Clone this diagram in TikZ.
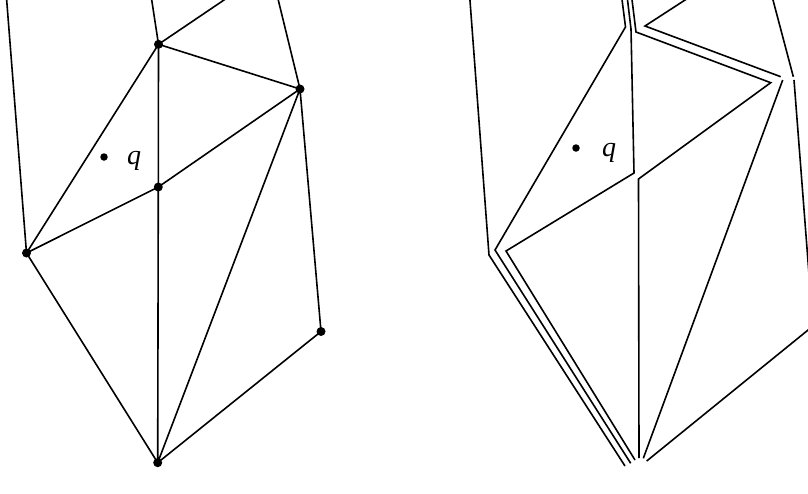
\documentclass[tikz,border=0pt]{standalone}
\usepackage{fontspec}
\setmainfont{Liberation Serif}
\begin{document}
\begin{tikzpicture}[x=1pt,y=-1pt,line width=1.6pt,line join=miter,
  vdot/.style={circle,fill=black,inner sep=0pt,minimum size=9pt},
  qdot/.style={circle,fill=black,inner sep=0pt,minimum size=7.5pt},
  qlab/.style={inner sep=0pt,font=\fontsize{28}{28}\selectfont\itshape}]
\useasboundingbox (0,0) rectangle (808,493);
\clip (0,0) rectangle (808,493);
% ---------- left figure ----------
\coordinate (A) at (158.5,44.3);
\coordinate (B) at (300,89);
\coordinate (C) at (158.3,187);
\coordinate (D) at (26.5,253);
\coordinate (E) at (321,331.5);
\coordinate (F) at (157.7,462.7);
\coordinate (TL) at (6.2,-6);
\coordinate (TA1) at (150.8,-6);
\coordinate (TA2) at (232.9,-6);
\coordinate (TB) at (276.8,-6);
\draw (D)--(TL) (A)--(TA1) (A)--(TA2) (B)--(TB);
\draw (A)--(B) (A)--(C) (A)--(D) (B)--(C) (B)--(F) (B)--(E)
      (C)--(D) (C)--(F) (D)--(F) (E)--(F);
\foreach \v in {A,B,C,D,E,F} \node[vdot] at (\v) {};
\node[qdot] (q1) at (104,157) {};
\node[qlab] (ql1) at (134,161) {q};
% ---------- right figure (chains) ----------
\coordinate (T1) at (469.5,-6);  \coordinate (D1) at (489,255);   \coordinate (F1) at (625,466);
\coordinate (T2) at (621.3,-6);  \coordinate (A2) at (625.5,27);  \coordinate (D2) at (495,250);  \coordinate (F2) at (630.7,463.3);
\coordinate (T3) at (626.8,-6);  \coordinate (A3) at (631,29);    \coordinate (C3) at (634,173);  \coordinate (D3) at (506,251); \coordinate (F3) at (635,460);
\coordinate (T4) at (631.3,-6);  \coordinate (A4) at (636,32);    \coordinate (B4) at (770.7,82.7); \coordinate (C4) at (638.5,179); \coordinate (F4) at (639,458);
\coordinate (T5) at (694.3,-6);  \coordinate (A5) at (645,26);    \coordinate (B5) at (780.7,76.7); \coordinate (B5b) at (782.7,80); \coordinate (F5) at (643.3,458.3);
\coordinate (T6) at (771.4,-6);  \coordinate (B6) at (793.3,76.7); \coordinate (B6b) at (794,80); \coordinate (E6) at (813,326); \coordinate (F6) at (646.7,461);
\draw (T1)--(D1)--(F1);
\draw (T2)--(A2)--(D2)--(F2);
\draw (T3)--(A3)--(C3)--(D3)--(F3);
\draw (T4)--(A4)--(B4)--(C4)--(F4);
\draw (T5)--(A5)--(B5);
\draw (B5b)--(F5);
\draw (T6)--(B6);
\draw (B6b)--(E6)--(F6);
\node[qdot] (q2) at (576,148) {};
\node[qlab] (ql2) at (609,153) {q};
\end{tikzpicture}
\end{document}
